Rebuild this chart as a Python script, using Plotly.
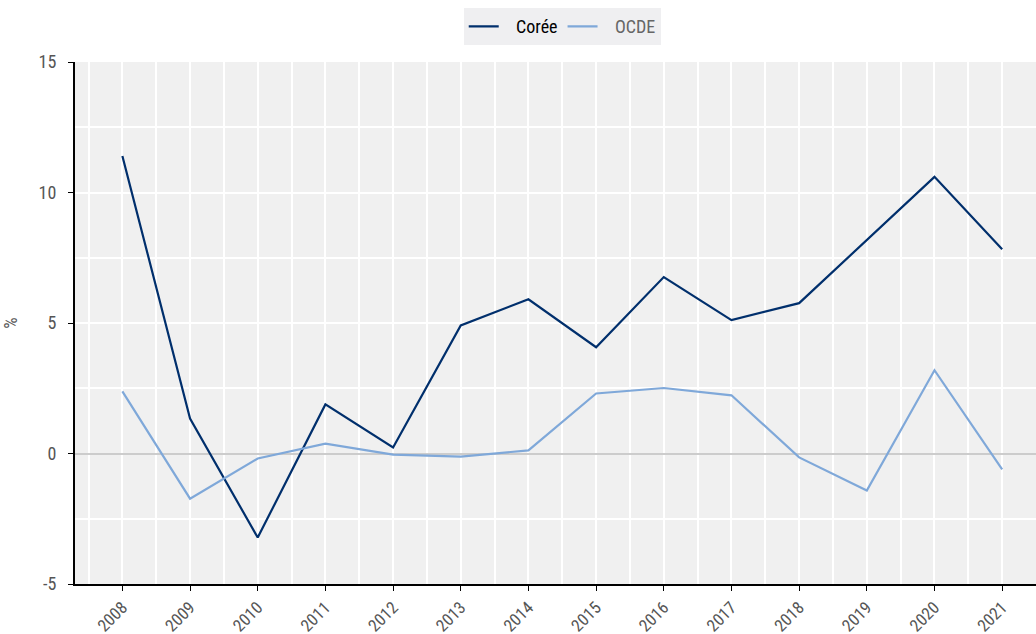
import plotly.graph_objects as go

years = [2008, 2009, 2010, 2011, 2012, 2013, 2014, 2015, 2016, 2017, 2018, 2019, 2020, 2021]
coree = [11.40, 1.34, -3.22, 1.88, 0.23, 4.91, 5.91, 4.07, 6.76, 5.11, 5.76, 8.18, 10.60, 7.83]
ocde = [2.38, -1.73, -0.19, 0.38, -0.04, -0.12, 0.12, 2.30, 2.51, 2.23, -0.15, -1.42, 3.19, -0.61]
y_ticks = [-5, 0, 5, 10, 15]
y_ticklabels = ["-5", "0", "5", "10", "15"]

FONT = "Liberation Sans Narrow, Roboto Condensed, Arial Narrow, Roboto, sans-serif"
NB = "\u00a0\u00a0\u00a0"

fig = go.Figure()
fig.add_trace(go.Scatter(x=years, y=coree, mode="lines", name=NB + "Corée",
                         line=dict(color="#002F6C", width=2.2)))
fig.add_trace(go.Scatter(x=years, y=ocde, mode="lines",
                         name=NB + "<span style='color:#666666'>OCDE</span>",
                         line=dict(color="#7FA8D9", width=2.2)))

fig.update_layout(
    width=1036, height=634,
    margin=dict(l=75, r=0, t=62, b=50, autoexpand=False),
    paper_bgcolor="white", plot_bgcolor="#f0f0f0",
    font=dict(family=FONT, color="#555555", size=15),
    showlegend=True,
    legend=dict(orientation="h", x=0.507, xanchor="center", y=1.103, yanchor="top",
                bgcolor="#efeff1", font=dict(size=18, color="#000000", family=FONT),
                itemwidth=30, tracegroupgap=0),
    xaxis=dict(range=[2007.3, 2021.5], tickmode="linear", tick0=2008, dtick=1,
               tickangle=-45, ticks="outside", ticklen=5, tickcolor="#000000",
               tickfont=dict(size=17, color="#555555"), automargin=False,
               showgrid=True, gridcolor="white", gridwidth=2,
               minor=dict(dtick=0.5, tick0=2007.5, showgrid=True, gridcolor="white", gridwidth=2),
               showline=True, linecolor="#000000", linewidth=2, zeroline=False, fixedrange=True),
    yaxis=dict(range=[-5, 15], tickmode="array", tickvals=y_ticks, ticktext=y_ticklabels,
               ticks="outside", ticklen=5, tickcolor="#000000",
               tickfont=dict(size=18, color="#555555"), automargin=False,
               ticklabelstandoff=8,
               showgrid=True, gridcolor="white", gridwidth=2,
               minor=dict(dtick=2.5, tick0=0, showgrid=True, gridcolor="white", gridwidth=2),
               zeroline=True, zerolinecolor="#cccccc", zerolinewidth=2,
               showline=True, linecolor="#000000", linewidth=2, fixedrange=True,
               title=dict(text="%", font=dict(size=18, color="#555555"), standoff=16)),
)

fig.write_html("out.html", config={"displayModeBar": False},
               post_script="document.body.style.margin='0';")
